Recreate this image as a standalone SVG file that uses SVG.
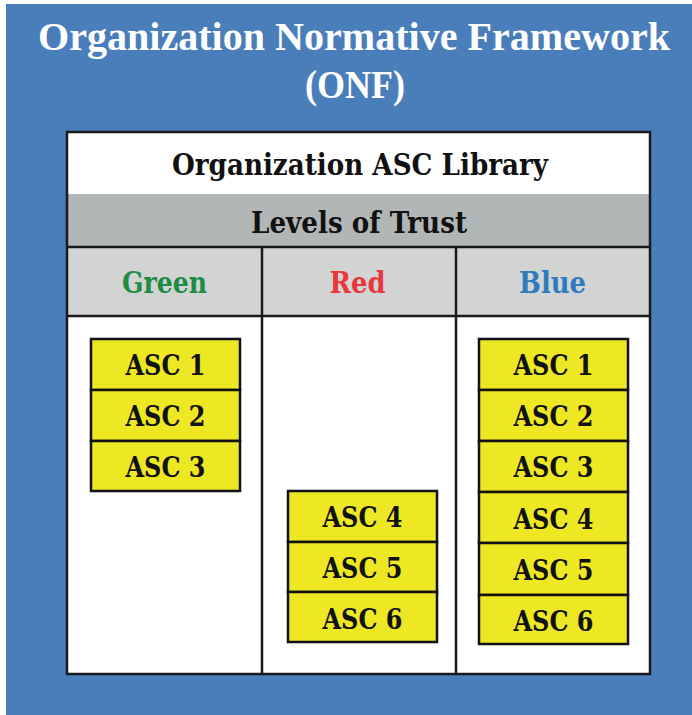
<svg xmlns="http://www.w3.org/2000/svg" width="692" height="715" viewBox="0 0 692 715">
  <style>
    .t { font-family: "DejaVu Serif", "Liberation Serif", serif; font-weight: bold; text-anchor: middle; }
    .title { fill: #ffffff; font-family: "Liberation Serif", "DejaVu Serif", serif; font-size: 40px; }
    .head { fill: #111111; font-size: 30px; }
    .col { font-size: 30px; }
    .asc rect { fill: #EDE823; stroke: #111111; stroke-width: 2.5; }
    .asc text { fill: #111111; font-size: 28px; }
    .grid { stroke: #1a1a1a; stroke-width: 2.5; fill: none; }
  </style>

  <!-- page frame -->
  <rect x="0" y="0" width="692" height="715" fill="#ffffff"/>
  <rect x="6" y="4" width="686" height="711" fill="#4A7EBB"/>

  <g id="title">
    <text class="t title" x="354" y="50" textLength="632" lengthAdjust="spacingAndGlyphs">Organization Normative Framework</text>
    <text class="t title" x="355" y="98" textLength="100" lengthAdjust="spacingAndGlyphs">(ONF)</text>
  </g>

  <!-- library table -->
  <g id="library">
    <rect x="67" y="132" width="583" height="542" fill="#ffffff"/>
    <rect x="67" y="194" width="583" height="53" fill="#B3B6B7"/>
    <rect x="67" y="247" width="583" height="69" fill="#D2D3D3"/>
    <text class="t head" x="360" y="175" textLength="376" lengthAdjust="spacingAndGlyphs">Organization ASC Library</text>
    <text class="t head" x="359" y="233" textLength="216" lengthAdjust="spacingAndGlyphs">Levels of Trust</text>
    <line class="grid" x1="67" y1="247" x2="650" y2="247"/>
    <line class="grid" x1="67" y1="316" x2="650" y2="316"/>
    <line class="grid" x1="262" y1="247" x2="262" y2="674"/>
    <line class="grid" x1="456" y1="247" x2="456" y2="674"/>
    <rect class="grid" x="67" y="132" width="583" height="542"/>
  </g>

  <g id="col-green">
    <text class="t col" x="164.5" y="293" fill="#1E8C45" textLength="85" lengthAdjust="spacingAndGlyphs">Green</text>
  </g>
  <g id="col-red">
    <text class="t col" x="357.5" y="293" fill="#E8383D" textLength="56" lengthAdjust="spacingAndGlyphs">Red</text>
  </g>
  <g id="col-blue">
    <text class="t col" x="552.5" y="293" fill="#2E7BC0" textLength="67" lengthAdjust="spacingAndGlyphs">Blue</text>
  </g>

  <!-- Green level -->
  <g id="green-asc1" class="asc"><rect x="91" y="339" width="149" height="51"/><text class="t" x="165.5" y="375" textLength="80" lengthAdjust="spacingAndGlyphs">ASC 1</text></g>
  <g id="green-asc2" class="asc"><rect x="91" y="390" width="149" height="51"/><text class="t" x="165.5" y="426" textLength="80" lengthAdjust="spacingAndGlyphs">ASC 2</text></g>
  <g id="green-asc3" class="asc"><rect x="91" y="441" width="149" height="50"/><text class="t" x="165.5" y="477" textLength="80" lengthAdjust="spacingAndGlyphs">ASC 3</text></g>

  <!-- Red level -->
  <g id="red-asc4" class="asc"><rect x="288" y="491" width="149" height="51"/><text class="t" x="362.5" y="527" textLength="80" lengthAdjust="spacingAndGlyphs">ASC 4</text></g>
  <g id="red-asc5" class="asc"><rect x="288" y="542" width="149" height="50"/><text class="t" x="362.5" y="578" textLength="80" lengthAdjust="spacingAndGlyphs">ASC 5</text></g>
  <g id="red-asc6" class="asc"><rect x="288" y="592" width="149" height="50"/><text class="t" x="362.5" y="629" textLength="80" lengthAdjust="spacingAndGlyphs">ASC 6</text></g>

  <!-- Blue level -->
  <g id="blue-asc1" class="asc"><rect x="479" y="339" width="149" height="51"/><text class="t" x="553.5" y="375" textLength="80" lengthAdjust="spacingAndGlyphs">ASC 1</text></g>
  <g id="blue-asc2" class="asc"><rect x="479" y="390" width="149" height="51"/><text class="t" x="553.5" y="426" textLength="80" lengthAdjust="spacingAndGlyphs">ASC 2</text></g>
  <g id="blue-asc3" class="asc"><rect x="479" y="441" width="149" height="51"/><text class="t" x="553.5" y="477" textLength="80" lengthAdjust="spacingAndGlyphs">ASC 3</text></g>
  <g id="blue-asc4" class="asc"><rect x="479" y="492" width="149" height="51"/><text class="t" x="553.5" y="529" textLength="80" lengthAdjust="spacingAndGlyphs">ASC 4</text></g>
  <g id="blue-asc5" class="asc"><rect x="479" y="543" width="149" height="52"/><text class="t" x="553.5" y="580" textLength="80" lengthAdjust="spacingAndGlyphs">ASC 5</text></g>
  <g id="blue-asc6" class="asc"><rect x="479" y="595" width="149" height="49"/><text class="t" x="553.5" y="631" textLength="80" lengthAdjust="spacingAndGlyphs">ASC 6</text></g>

  <g id="connectors"/>
</svg>
